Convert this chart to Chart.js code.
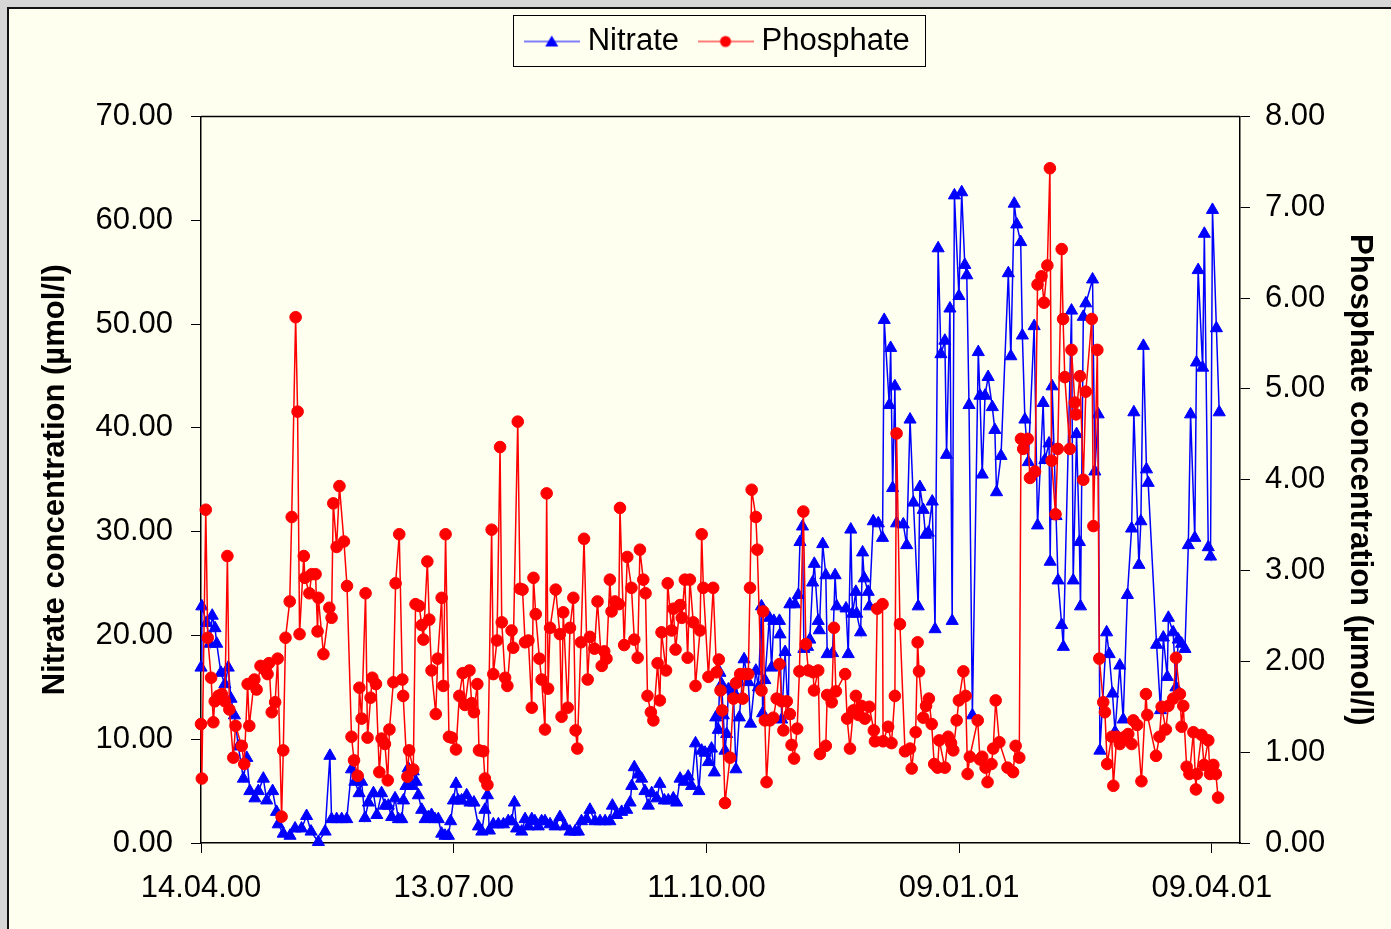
<!DOCTYPE html>
<html>
<head>
<meta charset="utf-8">
<script src="https://cdn.jsdelivr.net/npm/chart.js@4/dist/chart.umd.min.js"></script>
<style>
html,body{margin:0;padding:0;background:#d6d6d6;}
canvas{display:block;}
</style>
</head>
<body>
<canvas id="c" width="1391" height="929"></canvas>
<script>
// ---- x axis (days since 14.04.00) ----
const tickDays = [0, 90, 180, 270, 360];
const tickLabels = ['14.04.00', '13.07.00', '11.10.00', '09.01.01', '09.04.01'];

// ---- Nitrate (µmol/l) ----
const nitrateDays = [
0.0,0.3,2.0,3.2,4.0,5.0,5.6,7.1,8.5,9.7,
10.7,11.9,13.3,15.1,16.3,17.4,19.2,20.4,22.2,23.4,
25.5,26.9,27.5,29.3,31.7,33.5,35.8,37.6,39.2,41.8,
44.2,45.9,46.5,48.3,50.1,51.9,53.6,54.8,56.3,57.2,
58.4,59.6,61.4,62.6,64.3,65.5,66.7,67.9,69.1,70.3,
71.5,72.1,73.0,73.8,75.0,75.6,76.6,77.4,78.6,79.8,
81.0,82.1,83.3,84.5,85.7,86.9,88.1,88.9,89.9,90.8,
91.6,92.8,94.6,95.8,97.2,98.8,100.0,101.1,102.0,102.7,
104.1,105.9,107.7,109.4,110.6,111.6,112.4,114.2,115.4,116.6,
117.8,118.9,120.1,121.3,122.5,124.3,126.1,127.8,129.6,131.4,
133.2,134.4,135.5,137.3,138.5,140.3,142.1,143.9,145.6,146.5,
148.0,149.8,151.6,152.8,153.4,154.3,155.7,156.9,158.1,159.3,
160.5,162.3,163.4,165.0,166.4,168.2,169.4,170.6,172.1,173.5,
174.7,176.1,177.3,178.3,179.5,180.7,181.8,182.8,183.3,184.2,
184.8,185.4,186.0,186.6,187.2,187.8,189.0,189.6,190.5,191.7,
193.4,194.9,195.7,197.6,198.5,199.6,200.0,200.8,202.4,203.2,
204.0,206.0,206.2,206.8,208.0,209.1,209.7,211.5,212.7,213.3,
214.2,214.7,216.0,216.8,217.8,218.4,219.8,220.2,221.4,222.5,
223.0,224.9,225.8,226.4,229.7,230.5,231.4,232.0,233.2,233.5,
234.9,235.6,236.2,237.6,238.0,239.4,241.2,242.7,243.3,245.1,
245.6,246.3,247.1,247.7,250.1,251.3,252.5,253.7,255.4,256.0,
257.2,258.0,259.0,260.4,261.4,262.5,263.5,264.9,265.5,266.7,
267.5,268.3,269.9,270.9,272.0,272.7,273.5,274.7,276.8,277.4,
278.2,279.2,280.3,281.8,282.7,283.3,284.9,287.5,288.4,289.6,
290.5,291.9,292.5,293.4,294.6,296.7,297.9,299.9,300.5,302.0,
302.4,303.1,304.5,305.2,306.5,307.1,310.0,310.6,311.8,312.8,
313.2,314.2,315.1,317.5,318.3,319.5,320.1,322.5,323.4,324.6,
325.5,327.2,328.4,329.9,331.4,332.2,334.0,334.7,335.6,336.7,
337.3,340.3,341.7,342.7,344.1,344.5,346.2,347.2,348.0,349.2,
350.4,351.6,352.4,353.9,354.5,355.1,356.7,357.3,358.7,359.5,
360.2,361.6,362.6
];
const nitrateValues = [
16.9,22.8,21.2,19.2,21.9,20.7,19.2,16.4,15.3,16.9,
13.9,12.3,9.3,6.2,8.2,5.0,4.3,5.0,6.2,4.1,
5.0,3.0,1.8,0.9,0.7,1.4,1.4,2.6,1.1,0.1,
1.1,8.4,2.3,2.3,2.3,2.3,7.1,5.9,4.8,5.9,
2.4,3.9,4.8,2.7,4.8,3.6,3.6,2.5,4.3,2.3,
2.3,4.1,5.5,7.2,5.5,6.9,5.9,4.6,3.2,2.3,
2.5,2.7,2.3,2.3,0.9,0.7,0.7,2.1,4.1,5.7,
4.1,4.1,4.6,3.9,3.9,1.6,1.1,3.2,4.6,1.2,
1.8,1.8,1.8,2.1,2.1,3.9,1.4,1.1,2.3,1.6,
2.3,2.1,1.6,2.1,2.1,1.8,1.6,2.5,1.6,1.1,
1.1,1.1,2.1,2.3,3.2,2.1,2.1,2.1,2.1,3.6,
2.7,3.0,3.2,3.9,5.5,7.3,6.6,6.2,5.0,3.6,
4.8,4.3,5.7,4.1,4.1,4.3,3.9,6.2,5.9,6.4,
5.5,9.6,5.0,8.9,8.7,7.8,9.1,6.8,12.1,10.9,
16.4,15.3,12.3,8.9,10.5,14.8,15.0,14.6,7.1,12.1,
17.7,15.5,11.5,16.6,15.0,22.8,12.5,15.7,21.7,16.9,
21.4,21.4,20.1,11.9,18.4,12.3,23.0,23.0,23.9,29.0,
30.5,18.7,18.9,19.6,25.1,26.9,21.4,20.5,28.8,25.8,
18.2,18.3,25.8,22.8,22.6,18.2,30.2,22.1,24.2,22.1,
20.3,28.0,25.5,24.2,22.8,31.0,30.8,29.4,50.4,42.2,
47.7,34.2,44.0,30.8,30.7,28.7,40.8,32.8,22.8,34.3,
32.1,29.7,29.9,32.9,20.6,57.3,47.1,48.4,37.4,51.5,
21.4,62.4,52.7,62.7,55.7,54.7,42.2,12.3,47.3,43.1,
35.5,43.1,44.9,42.0,39.8,33.8,37.3,54.9,46.9,61.6,
59.6,57.9,48.9,40.8,36.7,49.8,30.6,42.4,36.9,38.5,
27.1,44.0,31.5,25.3,21.0,18.9,51.3,25.3,39.4,29.0,
22.8,50.7,52.0,54.3,35.8,41.3,8.9,20.3,18.2,14.4,
10.7,17.1,11.9,23.9,30.3,41.5,26.8,31.0,47.9,36.0,
34.7,19.1,12.8,19.8,16.0,21.7,20.3,15.0,19.6,19.2,
18.7,28.7,41.3,29.4,46.3,55.2,45.8,58.7,28.5,27.6,
61.0,49.6,41.5
];

// ---- Phosphate (µmol/l) ----
const phosphateDays = [
0.0,0.3,1.7,2.4,3.6,4.4,4.9,6.2,7.4,8.5,
9.4,10.1,11.5,12.3,14.5,15.4,16.6,17.2,19.0,19.8,
21.2,23.0,23.7,24.2,25.2,26.4,27.3,28.7,29.3,30.1,
31.6,32.3,33.7,34.4,35.1,36.6,37.0,38.6,39.4,40.8,
41.5,41.8,43.6,45.7,46.5,47.1,48.3,49.3,50.9,52.0,
53.6,54.5,55.8,56.4,57.2,58.6,59.3,60.4,61.0,62.3,
63.5,64.3,65.5,66.5,67.1,68.5,69.3,70.6,71.7,72.0,
73.5,74.1,75.6,76.4,77.7,78.6,79.2,80.6,81.3,82.1,
83.6,84.3,85.7,86.3,87.1,88.3,89.3,90.8,92.0,93.2,
94.0,95.6,96.4,97.2,98.4,99.0,100.5,101.1,102.0,103.5,
104.1,105.4,106.5,107.1,108.3,109.1,110.6,111.2,112.8,113.6,
114.5,115.4,116.6,117.8,118.4,119.2,120.5,121.3,122.5,123.1,
123.6,124.3,126.3,127.8,128.4,129.0,130.6,131.4,132.6,133.4,
134.0,135.3,136.4,137.7,138.5,140.1,141.2,142.7,143.6,144.4,
145.6,146.2,147.4,148.8,149.2,150.7,151.8,153.3,154.3,155.5,
156.3,157.5,158.3,159.0,160.2,161.1,162.6,163.4,164.0,165.6,
166.2,167.6,168.2,169.0,170.6,171.2,172.3,173.3,174.1,175.3,
176.1,177.7,178.3,178.9,180.7,182.4,183.6,184.4,185.0,185.6,
186.6,188.4,189.6,190.5,192.0,192.9,193.7,194.9,195.5,196.1,
197.6,198.1,199.6,200.2,200.8,201.4,202.6,203.8,205.0,206.0,
206.8,207.4,208.6,209.7,210.3,211.2,212.3,213.1,214.5,215.4,
216.3,218.0,218.3,219.8,220.4,222.5,223.0,224.6,225.4,226.1,
229.4,230.1,231.1,232.3,233.2,234.1,235.2,236.4,238.0,239.6,
240.0,240.8,242.7,242.9,244.7,245.9,247.1,247.7,248.9,250.7,
252.5,253.1,254.5,255.2,255.7,257.2,258.2,259.2,260.2,261.1,
262.3,262.9,264.9,266.1,267.1,267.9,269.1,269.9,271.5,272.3,
273.0,273.8,276.6,277.4,278.2,279.4,280.1,281.5,282.1,283.0,
284.3,287.2,289.2,290.1,291.4,292.0,292.8,294.4,295.2,297.0,
297.9,299.3,300.2,301.4,302.3,302.9,304.3,305.1,306.5,307.0,
307.6,309.4,310.0,311.2,311.6,313.0,314.2,315.1,317.2,317.8,
319.2,319.9,321.3,321.9,322.7,324.3,324.9,326.1,327.2,329.0,
330.2,331.4,332.0,333.4,334.9,336.5,337.0,340.1,341.3,342.1,
343.6,344.5,346.2,347.2,348.6,349.2,349.8,351.0,352.0,353.4,
354.3,354.6,356.3,357.2,358.7,359.3,360.5,361.4,362.2
];
const phosphateValues = [
1.31,0.71,3.67,2.26,1.82,1.33,1.56,1.62,1.64,1.56,
3.16,1.47,0.94,1.29,1.07,0.87,1.75,1.29,1.80,1.69,
1.95,1.90,1.86,1.98,1.44,1.55,2.03,0.29,1.02,2.26,
2.66,3.59,5.79,4.75,2.30,3.16,2.92,2.75,2.96,2.96,
2.33,2.70,2.08,2.59,2.48,3.74,3.26,3.93,3.32,2.83,
1.17,0.91,0.74,1.71,1.37,2.75,1.16,1.60,1.82,1.75,
0.78,1.15,1.09,0.69,1.25,1.77,2.86,3.40,1.80,1.62,
0.73,1.02,0.81,2.63,2.61,2.40,2.24,3.10,2.46,1.90,
1.42,2.03,2.70,1.73,3.40,1.17,1.16,1.03,1.62,1.87,
1.52,1.90,1.54,1.44,1.75,1.02,1.01,0.71,0.64,3.45,
1.86,2.23,4.36,2.43,1.82,1.73,2.34,2.15,4.64,2.80,
2.79,2.21,2.23,1.49,2.92,2.52,2.03,1.80,1.25,3.85,
1.70,2.37,2.79,2.30,1.39,2.54,1.49,2.37,2.70,1.24,
1.04,2.21,3.35,1.80,2.27,2.14,2.66,1.95,2.11,2.03,
2.90,2.55,2.66,2.63,3.69,2.18,3.15,2.81,2.24,2.04,
3.23,2.90,2.75,1.62,1.44,1.35,1.98,1.57,2.32,1.90,
2.86,2.34,2.58,2.13,2.62,2.48,2.90,2.04,2.90,2.43,
1.73,2.34,3.40,2.81,1.83,2.81,1.88,2.02,1.68,1.46,
0.44,0.94,1.59,1.76,1.86,1.59,1.86,1.86,2.81,3.89,
3.59,3.23,1.68,2.55,1.35,0.67,1.35,1.38,1.59,1.97,
1.56,1.24,1.56,1.42,1.08,0.93,1.26,1.89,3.65,2.19,
1.90,1.88,1.68,1.90,0.98,1.07,1.63,1.55,2.37,1.67,
1.86,1.37,1.04,1.46,1.62,1.41,1.51,1.37,1.50,1.24,
1.12,2.58,2.63,1.12,1.28,1.10,1.62,4.51,2.41,1.01,
1.04,0.82,1.22,2.21,1.89,1.38,1.51,1.59,1.31,0.87,
0.83,1.13,0.83,1.17,1.10,1.02,1.35,1.57,1.89,1.62,
0.76,0.95,1.35,0.92,0.95,0.83,0.67,0.87,1.04,1.57,
1.11,0.83,0.78,1.07,0.94,4.45,4.34,4.45,4.02,4.09,
6.15,6.24,5.95,6.36,7.43,4.21,3.62,4.34,6.54,5.77,
5.13,4.34,5.43,4.85,4.72,5.14,4.00,4.97,5.77,3.49,
5.43,2.03,1.55,1.44,0.87,1.17,0.63,1.17,1.09,1.17,
1.20,1.09,1.35,1.30,0.68,1.64,1.41,0.96,1.17,1.50,
1.25,1.51,1.59,2.04,1.64,1.28,1.51,0.84,0.76,1.22,
0.59,0.76,1.19,0.86,1.13,0.76,0.86,0.76,0.50
];

// ---- presentation ----
const FONT = "'Liberation Sans', Arial, Helvetica, sans-serif";
const IVORY = '#FFFFF0';
Chart.defaults.font.family = FONT;
Chart.defaults.font.size = 31;
Chart.defaults.color = '#000';

function legendMarker(kind, color) {
  const c = document.createElement('canvas');
  c.width = 56; c.height = 16;
  const g = c.getContext('2d');
  g.strokeStyle = color; g.fillStyle = color; g.lineWidth = 1.2;
  g.beginPath(); g.moveTo(0, 8); g.lineTo(56, 8); g.stroke();
  g.beginPath();
  if (kind === 'triangle') {
    g.moveTo(28, 2); g.lineTo(34.5, 13); g.lineTo(21.5, 13); g.closePath();
  } else {
    g.arc(28, 8, 5.5, 0, Math.PI * 2);
  }
  g.fill();
  return c;
}
const markers = [legendMarker('triangle', '#0000FF'), legendMarker('circle', '#FF0000')];

const framePlugin = {
  id: 'frame',
  beforeLayout(chart) {
    const leg = chart.legend;
    if (leg && !leg._wrapped) {
      const fit = leg.fit;
      leg.fit = function () { fit.call(this); this.height = 116.5; };
      leg._wrapped = true;
    }
  },
  beforeDraw(chart) {
    const ctx = chart.ctx;
    ctx.save();
    ctx.fillStyle = '#d6d6d6';
    ctx.fillRect(0, 0, chart.width, chart.height);
    ctx.fillStyle = IVORY;
    ctx.fillRect(8, 8, chart.width - 8, chart.height - 8);
    ctx.strokeStyle = '#111';
    ctx.lineWidth = 2;
    ctx.beginPath();
    ctx.moveTo(8, chart.height); ctx.lineTo(8, 8); ctx.lineTo(chart.width, 8);
    ctx.stroke();
    ctx.restore();
  },
  afterDraw(chart) {
    const ctx = chart.ctx;
    const a = chart.chartArea;
    ctx.save();
    ctx.strokeStyle = '#000';
    ctx.lineWidth = 1.5;
    ctx.beginPath();
    ctx.moveTo(a.left, a.top); ctx.lineTo(a.right, a.top);
    ctx.stroke();
    const hb = chart.legend && chart.legend.legendHitBoxes;
    if (hb && hb.length) {
      const first = hb[0], last = hb[hb.length - 1];
      const l = Math.round(first.left - 18) + 0.5;
      const r = Math.round(last.left + last.width + 15) + 0.5;
      const t = Math.round(first.top - 11) + 0.5;
      const b = Math.round(first.top + 40) + 0.5;
      ctx.lineWidth = 1;
      ctx.strokeRect(l, t, r - l, b - t);
    }
    ctx.restore();
  }
};

const nitrateData = nitrateDays.map((d, i) => ({ x: d, y: nitrateValues[i] }));
const phosphateData = phosphateDays.map((d, i) => ({ x: d, y: phosphateValues[i] }));

new Chart(document.getElementById('c'), {
  type: 'line',
  data: {
    datasets: [
      {
        label: 'Nitrate',
        data: nitrateData,
        yAxisID: 'y',
        order: 2,
        borderColor: '#0000FF',
        backgroundColor: '#0000FF',
        borderWidth: 1.5,
        pointStyle: 'triangle',
        pointRadius: 7,
        pointBorderWidth: 1,
        pointBackgroundColor: '#0000FF',
        pointBorderColor: '#0000FF',
        tension: 0,
        clip: false
      },
      {
        label: 'Phosphate',
        data: phosphateData,
        yAxisID: 'y2',
        order: 1,
        borderColor: '#FF0000',
        backgroundColor: '#FF0000',
        borderWidth: 1.5,
        pointStyle: 'circle',
        pointRadius: 5.8,
        pointBorderWidth: 1,
        pointBackgroundColor: '#FF0000',
        pointBorderColor: '#FF0000',
        tension: 0,
        clip: false
      }
    ]
  },
  options: {
    responsive: false,
    animation: false,
    devicePixelRatio: 1,
    layout: { padding: { top: 0, left: 0, right: 0, bottom: 0 } },
    plugins: {
      tooltip: { enabled: false },
      legend: {
        display: true,
        position: 'top',
        align: 'center',
        fullSize: false,
        labels: {
          usePointStyle: true,
          pointStyleWidth: 41,
          padding: 26,
          color: '#000',
          font: { size: 31, family: FONT },
          sort: (a, b) => a.datasetIndex - b.datasetIndex,
          generateLabels(chart) {
            const items = Chart.defaults.plugins.legend.labels.generateLabels(chart);
            items.forEach(it => { it.pointStyle = markers[it.datasetIndex]; it.lineWidth = 0; });
            return items;
          }
        }
      }
    },
    scales: {
      x: {
        type: 'linear',
        min: 0,
        max: 370,
        afterBuildTicks(scale) { scale.ticks = tickDays.map(v => ({ value: v })); },
        afterFit(scale) { scale.height = 86; },
        ticks: {
          autoSkip: false,
          maxRotation: 0,
          padding: 17,
          font: { size: 31 },
          color: '#000',
          callback: (v) => tickLabels[tickDays.indexOf(v)]
        },
        grid: { display: true, drawOnChartArea: false, drawTicks: true, tickLength: 10, color: '#000', lineWidth: 1 },
        border: { display: true, color: '#000', width: 1.5 }
      },
      y: {
        type: 'linear',
        position: 'left',
        min: 0,
        max: 70,
        afterFit(scale) { scale.width = 201; },
        ticks: {
          stepSize: 10,
          padding: 18,
          font: { size: 31 },
          color: '#000',
          callback: (v) => Number(v).toFixed(2)
        },
        grid: { display: true, drawOnChartArea: false, drawTicks: true, tickLength: 10, color: '#000', lineWidth: 1 },
        border: { display: true, color: '#000', width: 1.5 },
        title: {
          display: true,
          text: 'Nitrate concentration (µmol/l)',
          color: '#000',
          font: { size: 31, weight: 'bold', family: FONT },
          padding: { top: 37, bottom: 0 }
        }
      },
      y2: {
        type: 'linear',
        position: 'right',
        min: 0,
        max: 8,
        afterFit(scale) { scale.width = 151; },
        ticks: {
          stepSize: 1,
          padding: 15,
          font: { size: 31 },
          color: '#000',
          callback: (v) => Number(v).toFixed(2)
        },
        grid: { display: true, drawOnChartArea: false, drawTicks: true, tickLength: 10, color: '#000', lineWidth: 1 },
        border: { display: true, color: '#000', width: 1.5 },
        title: {
          display: true,
          text: 'Phosphate concentration (µmol/l)',
          color: '#000',
          font: { size: 31, weight: 'bold', family: FONT },
          padding: { top: 13, bottom: 0 }
        }
      }
    }
  },
  plugins: [framePlugin]
});
</script>
</body>
</html>
